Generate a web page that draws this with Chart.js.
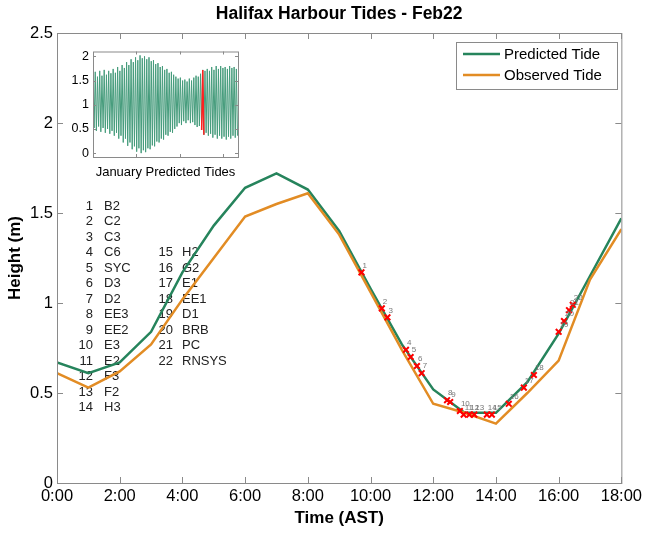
<!DOCTYPE html>
<html lang="en">
<head>
    <meta charset="UTF-8">
    <title>Halifax Harbour Tides - Feb22</title>
    <script src="https://cdn.jsdelivr.net/npm/chart.js"></script>
    <style>
        body {
            margin: 0;
            padding: 0;
            background-color: #fff;
        }

        .wrap {
            position: relative;
            width: 646px;
            height: 533px;
        }

        #inset {
            position: absolute;
            left: 60px;
            top: 40px;
        }
    </style>
</head>
<body>
    <div class="wrap">
        <canvas id="main" width="646" height="533"></canvas>
        <canvas id="inset" width="190" height="150"></canvas>
    </div>

    <script>
        // main chart data (hours AST, metres)
        const hours = [0, 1, 2, 3, 4, 5, 6, 7, 8, 9, 10, 11, 12, 13, 14, 15, 16, 17, 18];
        const predicted = [0.67, 0.61, 0.67, 0.84, 1.17, 1.43, 1.64, 1.72, 1.63, 1.40, 1.08, 0.77, 0.52, 0.39, 0.39, 0.56, 0.83, 1.15, 1.47];
        const observed = [0.61, 0.53, 0.62, 0.77, 1.02, 1.25, 1.48, 1.55, 1.61, 1.38, 1.06, 0.74, 0.44, 0.39, 0.33, 0.50, 0.68, 1.13, 1.41];

        // site sample times and heights (red crosses)
        const siteTimes = [9.71, 10.36, 10.54, 11.13, 11.28, 11.48, 11.63, 12.44, 12.54, 12.85, 12.97, 13.15, 13.31, 13.71, 13.87, 14.41, 14.89, 15.21, 16.0, 16.17, 16.33, 16.45];
        const siteHeights = [1.17, 0.97, 0.92, 0.74, 0.70, 0.65, 0.61, 0.46, 0.45, 0.40, 0.38, 0.38, 0.38, 0.38, 0.38, 0.44, 0.53, 0.60, 0.84, 0.90, 0.96, 0.99];
        const siteNames = ["B2", "C2", "C3", "C6", "SYC", "D3", "D2", "EE3", "EE2", "E3", "E2", "F3", "F2", "H3", "H2", "G2", "E1", "EE1", "D1", "BRB", "PC", "RNSYS"];

        const xTicks = [0, 2, 4, 6, 8, 10, 12, 14, 16, 18];
        const yTicks = [0, 0.5, 1, 1.5, 2, 2.5];

        // inset: January predicted tides, one high and one low per tidal cycle
        const janHighs = [1.62, 1.68, 1.58, 1.70, 1.60, 1.72, 1.62, 1.70, 1.65,
            1.74, 1.66, 1.78, 1.70, 1.82, 1.76, 1.88,
            1.82, 1.94, 1.88, 1.98, 1.92, 2.02, 1.96,
            2.00, 1.94, 1.98, 1.90, 1.92, 1.84, 1.86,
            1.78, 1.80, 1.72, 1.74, 1.66, 1.68, 1.62,
            1.58, 1.54, 1.56, 1.50, 1.52, 1.48, 1.54,
            1.50, 1.56, 1.60, 1.58, 1.64,
            1.72, 1.70,
            1.74, 1.70, 1.78, 1.72, 1.80, 1.74, 1.80, 1.76, 1.78, 1.74, 1.80, 1.76, 1.78, 1.74];
        const janLows = [0.52, 0.46, 0.55, 0.44, 0.52, 0.42, 0.50, 0.40, 0.46,
            0.36, 0.42, 0.30, 0.36, 0.22, 0.30, 0.15,
            0.22, 0.08, 0.14, 0.03, 0.10, 0.00, 0.06,
            0.02, 0.10, 0.08, 0.16, 0.14, 0.24, 0.22,
            0.30, 0.28, 0.38, 0.36, 0.44, 0.42, 0.50,
            0.55, 0.62, 0.58, 0.66, 0.62, 0.68, 0.62,
            0.64, 0.58, 0.54, 0.56, 0.48,
            0.38, 0.42,
            0.36, 0.40, 0.32, 0.38, 0.30, 0.36, 0.30, 0.34, 0.28, 0.34, 0.30, 0.36, 0.32, 0.36];
        const redCycles = [49];
        const cycleDays = 0.5175;
        const insetTicks = [10, 20, 30];
        const insetYTicks = [0, 0.5, 1, 1.5, 2];

        const FONT = "'Liberation Sans', Arial, sans-serif";
        const GREEN = "rgb(38,132,92)";
        const ORANGE = "rgb(226,140,36)";

        const mainPlugin = {
            id: "mainDecor",
            beforeDatasetsDraw(chart) {
                const ctx = chart.ctx;
                ctx.save();
                ctx.fillStyle = "#222";
                ctx.font = "13px " + FONT;
                ctx.textBaseline = "middle";
                siteNames.forEach((name, i) => {
                    let numX, nameX, row;
                    if (i < 14) { numX = 93; nameX = 104; row = i; }
                    else { numX = 173; nameX = 182; row = i - 11; }
                    const y = 206 + row * 15.5;
                    ctx.textAlign = "right";
                    ctx.fillText(String(i + 1), numX, y);
                    ctx.textAlign = "left";
                    ctx.fillText(name, nameX, y);
                });
                ctx.restore();
            },
            afterDatasetsDraw(chart) {
                const ctx = chart.ctx;
                const meta = chart.getDatasetMeta(2);
                ctx.save();
                ctx.fillStyle = "#777";
                ctx.font = "8px " + FONT;
                ctx.textAlign = "left";
                ctx.textBaseline = "bottom";
                meta.data.forEach((pt, i) => {
                    ctx.fillText(String(i + 1), pt.x + 1, pt.y - 3);
                });
                ctx.restore();
            },
            afterDraw(chart) {
                const ctx = chart.ctx;
                const a = chart.chartArea;
                const xs = chart.scales.x, ys = chart.scales.y;
                ctx.save();
                ctx.strokeStyle = "#8a8a8a";
                ctx.lineWidth = 1;
                ctx.strokeRect(a.left + 0.5, a.top + 0.5, a.right - a.left, a.bottom - a.top);
                ctx.beginPath();
                xTicks.forEach(v => {
                    const px = Math.round(xs.getPixelForValue(v)) + 0.5;
                    ctx.moveTo(px, a.bottom); ctx.lineTo(px, a.bottom - 6);
                    ctx.moveTo(px, a.top); ctx.lineTo(px, a.top + 6);
                });
                yTicks.forEach(v => {
                    const py = Math.round(ys.getPixelForValue(v)) + 0.5;
                    ctx.moveTo(a.left, py); ctx.lineTo(a.left + 6, py);
                    ctx.moveTo(a.right, py); ctx.lineTo(a.right - 6, py);
                });
                ctx.stroke();

                // title and axis titles
                ctx.fillStyle = "#000";
                ctx.textAlign = "center";
                ctx.textBaseline = "middle";
                ctx.font = "bold 17.5px " + FONT;
                ctx.fillText("Halifax Harbour Tides - Feb22", (a.left + a.right) / 2, 14);
                ctx.font = "bold 17px " + FONT;
                ctx.fillText("Time (AST)", (a.left + a.right) / 2, 518);
                ctx.save();
                ctx.translate(15, (a.top + a.bottom) / 2);
                ctx.rotate(-Math.PI / 2);
                ctx.fillText("Height (m)", 0, 0);
                ctx.restore();

                // legend box
                const lx = 456, ly = 42, lw = 161, lh = 47;
                ctx.fillStyle = "#fff";
                ctx.fillRect(lx, ly, lw, lh);
                ctx.strokeStyle = "#8a8a8a";
                ctx.strokeRect(lx + 0.5, ly + 0.5, lw, lh);
                [0, 1].forEach(k => {
                    const ds = chart.data.datasets[k];
                    const y = 54 + k * 21;
                    ctx.strokeStyle = ds.borderColor;
                    ctx.lineWidth = 2.5;
                    ctx.beginPath();
                    ctx.moveTo(463, y); ctx.lineTo(500, y);
                    ctx.stroke();
                    ctx.fillStyle = "#000";
                    ctx.font = "15px " + FONT;
                    ctx.textAlign = "left";
                    ctx.fillText(ds.label, 504, y + 1);
                });
                ctx.restore();
            }
        };

        new Chart(document.getElementById("main"), {
            type: "line",
            data: {
                datasets: [
                    {
                        label: "Predicted Tide",
                        data: hours.map((h, i) => ({ x: h, y: predicted[i] })),
                        borderColor: GREEN,
                        borderWidth: 2.5,
                        pointRadius: 0,
                        order: 2
                    },
                    {
                        label: "Observed Tide",
                        data: hours.map((h, i) => ({ x: h, y: observed[i] })),
                        borderColor: ORANGE,
                        borderWidth: 2.5,
                        pointRadius: 0,
                        order: 1
                    },
                    {
                        label: "Sites",
                        data: siteTimes.map((t, i) => ({ x: t, y: siteHeights[i] })),
                        showLine: false,
                        pointStyle: "crossRot",
                        pointRadius: 4,
                        borderColor: "#ff0000",
                        borderWidth: 2,
                        order: 0
                    }
                ]
            },
            options: {
                responsive: false,
                animation: false,
                layout: { padding: { top: 33, right: 24, left: 0, bottom: 0 } },
                plugins: { legend: { display: false }, tooltip: { enabled: false } },
                scales: {
                    x: {
                        type: "linear",
                        min: 0,
                        max: 18,
                        afterBuildTicks: s => { s.ticks = xTicks.map(v => ({ value: v })); },
                        grid: { display: false, drawTicks: false },
                        border: { display: false },
                        ticks: {
                            callback: v => v + ":00",
                            font: { size: 16.5, family: FONT },
                            color: "#000",
                            padding: 4,
                            maxRotation: 0,
                            autoSkip: false
                        },
                        afterFit: s => { s.height = 50; }
                    },
                    y: {
                        min: 0,
                        max: 2.5,
                        afterBuildTicks: s => { s.ticks = yTicks.map(v => ({ value: v })); },
                        grid: { display: false, drawTicks: false },
                        border: { display: false },
                        ticks: {
                            callback: v => String(v),
                            font: { size: 16.5, family: FONT },
                            color: "#000",
                            padding: 4
                        },
                        afterFit: s => { s.width = 57; }
                    }
                }
            },
            plugins: [mainPlugin]
        });

        // inset chart
        const janPoints = [];
        janHighs.forEach((h, i) => {
            janPoints.push({ x: i * cycleDays, y: h });
            janPoints.push({ x: (i + 0.5) * cycleDays, y: janLows[i] });
        });
        const redPoints = [];
        redCycles.forEach(i => {
            redPoints.push({ x: (i - 0.5) * cycleDays, y: janLows[i - 1] });
            redPoints.push({ x: i * cycleDays, y: janHighs[i] });
            redPoints.push({ x: (i + 0.5) * cycleDays, y: janLows[i] });
        });

        const insetPlugin = {
            id: "insetDecor",
            beforeDraw(chart) {
                const ctx = chart.ctx;
                const a = chart.chartArea;
                ctx.save();
                ctx.fillStyle = "#fff";
                ctx.fillRect(a.left, a.top, a.right - a.left, a.bottom - a.top);
                ctx.restore();
            },
            afterDraw(chart) {
                const ctx = chart.ctx;
                const a = chart.chartArea;
                const xs = chart.scales.x, ys = chart.scales.y;
                ctx.save();
                ctx.strokeStyle = "#8a8a8a";
                ctx.lineWidth = 1;
                ctx.strokeRect(a.left + 0.5, a.top + 0.5, a.right - a.left, a.bottom - a.top);
                ctx.beginPath();
                insetTicks.forEach(v => {
                    const px = Math.round(xs.getPixelForValue(v)) + 0.5;
                    ctx.moveTo(px, a.bottom); ctx.lineTo(px, a.bottom - 3);
                    ctx.moveTo(px, a.top); ctx.lineTo(px, a.top + 3);
                });
                insetYTicks.forEach(v => {
                    const py = Math.round(ys.getPixelForValue(v)) + 0.5;
                    ctx.moveTo(a.left, py); ctx.lineTo(a.left + 3, py);
                    ctx.moveTo(a.right, py); ctx.lineTo(a.right - 3, py);
                });
                ctx.stroke();
                ctx.fillStyle = "#000";
                ctx.font = "13px " + FONT;
                ctx.textAlign = "center";
                ctx.textBaseline = "middle";
                ctx.fillText("January Predicted Tides", (a.left + a.right) / 2, 132);
                ctx.restore();
            }
        };

        new Chart(document.getElementById("inset"), {
            type: "line",
            data: {
                datasets: [
                    {
                        data: redPoints,
                        borderColor: "#ff2020",
                        borderWidth: 1.5,
                        pointRadius: 0
                    },
                    {
                        data: janPoints,
                        borderColor: "rgb(70,156,124)",
                        borderWidth: 1,
                        pointRadius: 0
                    }
                ]
            },
            options: {
                responsive: false,
                animation: false,
                layout: { padding: { top: 5, right: 12, left: 0, bottom: 0 } },
                plugins: { legend: { display: false }, tooltip: { enabled: false } },
                scales: {
                    x: {
                        type: "linear",
                        min: 0,
                        max: 33.5,
                        grid: { display: false, drawTicks: false },
                        border: { display: false },
                        ticks: { display: false },
                        afterFit: s => { s.height = 33; }
                    },
                    y: {
                        min: -0.08,
                        max: 2.1,
                        afterBuildTicks: s => { s.ticks = insetYTicks.map(v => ({ value: v })); },
                        grid: { display: false, drawTicks: false },
                        border: { display: false },
                        ticks: {
                            callback: v => String(v),
                            font: { size: 12.5, family: FONT },
                            color: "#000",
                            padding: 4
                        },
                        afterFit: s => { s.width = 33; }
                    }
                }
            },
            plugins: [insetPlugin]
        });
    </script>
</body>
</html>
